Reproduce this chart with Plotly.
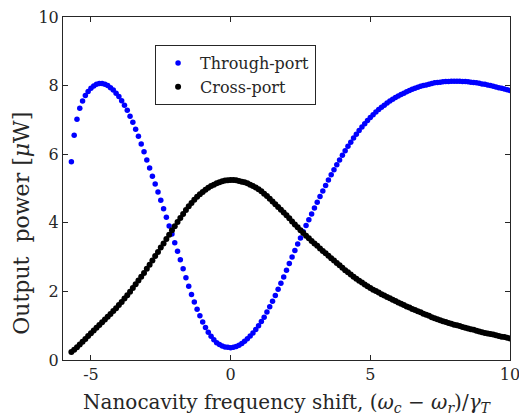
import plotly.graph_objects as go

# detuning values (units of gamma_T)
shift = [
    -5.7, -5.6, -5.5, -5.4, -5.3, -5.2, -5.1, -5.0, -4.9, -4.8,
    -4.7, -4.6, -4.5, -4.4, -4.3, -4.2, -4.1, -4.0, -3.9, -3.8,
    -3.7, -3.6, -3.5, -3.4, -3.3, -3.2, -3.1, -3.0, -2.9, -2.8,
    -2.7, -2.6, -2.5, -2.4, -2.3, -2.2, -2.1, -2.0, -1.9, -1.8,
    -1.7, -1.6, -1.5, -1.4, -1.3, -1.2, -1.1, -1.0, -0.9, -0.8,
    -0.7, -0.6, -0.5, -0.4, -0.3, -0.2, -0.1, 0.0, 0.1, 0.2,
    0.3, 0.4, 0.5, 0.6, 0.7, 0.8, 0.9, 1.0, 1.1, 1.2,
    1.3, 1.4, 1.5, 1.6, 1.7, 1.8, 1.9, 2.0, 2.1, 2.2,
    2.3, 2.4, 2.5, 2.6, 2.7, 2.8, 2.9, 3.0, 3.1, 3.2,
    3.3, 3.4, 3.5, 3.6, 3.7, 3.8, 3.9, 4.0, 4.1, 4.2,
    4.3, 4.4, 4.5, 4.6, 4.7, 4.8, 4.9, 5.0, 5.1, 5.2,
    5.3, 5.4, 5.5, 5.6, 5.7, 5.8, 5.9, 6.0, 6.1, 6.2,
    6.3, 6.4, 6.5, 6.6, 6.7, 6.8, 6.9, 7.0, 7.1, 7.2,
    7.3, 7.4, 7.5, 7.6, 7.7, 7.8, 7.9, 8.0, 8.1, 8.2,
    8.3, 8.4, 8.5, 8.6, 8.7, 8.8, 8.9, 9.0, 9.1, 9.2,
    9.3, 9.4, 9.5, 9.6, 9.7, 9.8, 9.9, 10.0,
]

# output power, micro-watts
through_port = [
    5.78, 6.55, 7.02, 7.34, 7.55, 7.71, 7.83, 7.92, 7.99, 8.04,
    8.06, 8.06, 8.04, 8.00, 7.94, 7.87, 7.78, 7.68, 7.56, 7.43,
    7.28, 7.11, 6.93, 6.73, 6.52, 6.30, 6.07, 5.83, 5.60, 5.36,
    5.13, 4.90, 4.66, 4.41, 4.16, 3.91, 3.67, 3.42, 3.17, 2.92,
    2.66, 2.40, 2.15, 1.91, 1.69, 1.48, 1.29, 1.11, 0.95, 0.81,
    0.69, 0.59, 0.50, 0.45, 0.41, 0.38, 0.37, 0.36, 0.37, 0.39,
    0.43, 0.48, 0.55, 0.62, 0.70, 0.79, 0.89, 1.00, 1.12, 1.25,
    1.40, 1.55, 1.71, 1.88, 2.06, 2.24, 2.42, 2.62, 2.81, 3.00,
    3.19, 3.38, 3.56, 3.74, 3.92, 4.09, 4.26, 4.43, 4.60, 4.77,
    4.93, 5.09, 5.25, 5.40, 5.55, 5.69, 5.83, 5.97, 6.10, 6.23,
    6.35, 6.47, 6.58, 6.69, 6.79, 6.89, 6.98, 7.07, 7.15, 7.23,
    7.30, 7.37, 7.43, 7.49, 7.55, 7.60, 7.65, 7.70, 7.74, 7.78,
    7.82, 7.86, 7.89, 7.92, 7.95, 7.98, 8.00, 8.02, 8.04, 8.06,
    8.08, 8.09, 8.10, 8.11, 8.12, 8.12, 8.13, 8.13, 8.13, 8.13,
    8.12, 8.12, 8.11, 8.10, 8.09, 8.08, 8.07, 8.05, 8.04, 8.02,
    8.00, 7.98, 7.96, 7.94, 7.92, 7.90, 7.88, 7.86,
]

cross_port = [
    0.23, 0.30, 0.37, 0.45, 0.53, 0.61, 0.70, 0.78, 0.86, 0.94,
    1.02, 1.10, 1.18, 1.26, 1.34, 1.43, 1.51, 1.60, 1.69, 1.79,
    1.89, 1.99, 2.10, 2.21, 2.32, 2.43, 2.54, 2.66, 2.78, 2.90,
    3.03, 3.15, 3.28, 3.40, 3.53, 3.65, 3.78, 3.90, 4.02, 4.14,
    4.26, 4.37, 4.48, 4.58, 4.67, 4.76, 4.83, 4.90, 4.96, 5.02,
    5.07, 5.11, 5.15, 5.18, 5.21, 5.23, 5.24, 5.25, 5.25, 5.24,
    5.22, 5.20, 5.18, 5.15, 5.11, 5.07, 5.03, 4.98, 4.92, 4.85,
    4.78, 4.70, 4.62, 4.54, 4.46, 4.38, 4.30, 4.22, 4.13, 4.04,
    3.95, 3.87, 3.78, 3.70, 3.62, 3.55, 3.47, 3.40, 3.33, 3.25,
    3.18, 3.11, 3.04, 2.97, 2.90, 2.83, 2.76, 2.69, 2.62, 2.56,
    2.49, 2.43, 2.37, 2.31, 2.26, 2.20, 2.15, 2.10, 2.05, 2.01,
    1.97, 1.92, 1.88, 1.84, 1.80, 1.76, 1.72, 1.68, 1.64, 1.60,
    1.56, 1.53, 1.49, 1.46, 1.42, 1.39, 1.35, 1.32, 1.29, 1.25,
    1.22, 1.19, 1.16, 1.13, 1.11, 1.08, 1.06, 1.03, 1.01, 0.99,
    0.96, 0.94, 0.92, 0.90, 0.88, 0.85, 0.83, 0.81, 0.79, 0.77,
    0.76, 0.74, 0.72, 0.70, 0.68, 0.67, 0.65, 0.63,
]

x_ticks = [-5, 0, 5, 10]
x_tick_text = ["-5", "0", "5", "10"]
y_ticks = [0, 2, 4, 6, 8, 10]

serif = "DejaVu Serif"
ink = '#262626'

fig = go.Figure()

fig.add_trace(go.Scatter(
    x=shift, y=through_port, mode='markers',
    marker=dict(size=5.5, color='#0000ff'),
    name='Through-port'
))
fig.add_trace(go.Scatter(
    x=shift, y=cross_port, mode='markers',
    marker=dict(size=6, color='#000000'),
    name='Cross-port'
))

axis_style = dict(
    showline=True, linecolor=ink, linewidth=1, mirror='ticks',
    ticks='inside', ticklen=5, tickcolor=ink,
    showgrid=False, zeroline=False, automargin=False,
    ticklabeloverflow='allow',
    tickfont=dict(family=serif, size=16, color=ink),
)

fig.update_layout(
    width=519, height=416,
    margin=dict(l=63, r=9, t=17, b=56),
    plot_bgcolor='white', paper_bgcolor='white',
    font=dict(family=serif, color=ink),
    xaxis=dict(
        range=[-6, 10], tickvals=x_ticks, ticktext=x_tick_text,
        title=dict(
            text='Nanocavity frequency shift, (<i>ω</i><sub><i>c</i></sub> − <i>ω</i><sub><i>r</i></sub>)/<i>γ</i><sub><i>T</i></sub>',
            font=dict(family=serif, size=20, color=ink)),
        **axis_style
    ),
    yaxis=dict(range=[0, 10], tickvals=y_ticks, **axis_style),
    legend=dict(
        x=0.206, y=0.918, xanchor='left', yanchor='top',
        bordercolor=ink, borderwidth=1, bgcolor='white',
        font=dict(family=serif, size=16, color=ink),
        tracegroupgap=0, itemwidth=34,
    ),
    showlegend=True,
)

# y label sits a bit below the axis centre in the reference
fig.add_annotation(
    text='Output  power [<i>μ</i>W]', textangle=-90,
    xref='paper', yref='paper', x=-0.092, y=0.40,
    xanchor='center', yanchor='middle', showarrow=False,
    font=dict(family=serif, size=22, color=ink),
)

# page body has a default margin; drop it so the figure fills the window
fig.write_html("out.html", config={'displayModeBar': False},
               post_script="document.body.style.margin='0px';")
